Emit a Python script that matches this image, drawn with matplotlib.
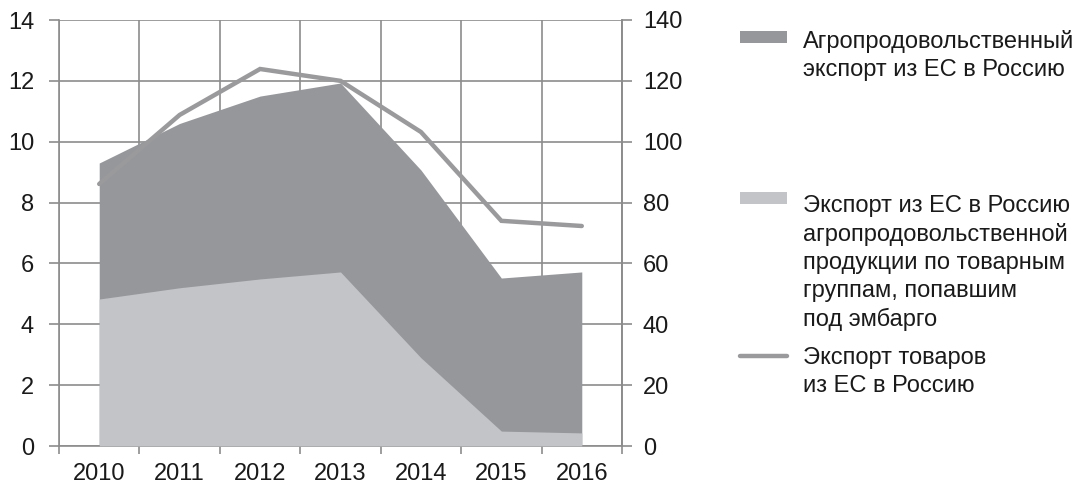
import numpy as np
import matplotlib.pyplot as plt
from matplotlib.patches import Rectangle
from matplotlib.lines import Line2D

plt.rcParams['font.family'] = ['Liberation Sans', 'DejaVu Sans']

years = ['2010', '2011', '2012', '2013', '2014', '2015', '2016']
agri_total = [9.3, 10.6, 11.5, 11.93, 9.07, 5.52, 5.72]
agri_embargo = [4.83, 5.2, 5.49, 5.72, 2.9, 0.49, 0.43]
total_export = [86.1, 108.8, 123.9, 120.0, 103.2, 74.0, 72.3]

dark = '#96979b'
light = '#c3c4c8'
line_col = '#9a9a9d'
grid_col = '#8c8c8c'
txt = '#1a1a1a'
fs = 17

fig = plt.figure(figsize=(10.83, 4.86), dpi=100)
ax = fig.add_axes([59 / 1083, 1 - 446 / 486, (622 - 59) / 1083, (446 - 20) / 486])
x = np.arange(len(years))

ax.fill_between(x, 0, agri_total, color=dark, lw=0, zorder=2)
ax.fill_between(x, 0, agri_embargo, color=light, lw=0, zorder=3)

ax.set_xlim(-0.5, len(years) - 0.5)
ax.set_ylim(0, 14)
ax.set_yticks(np.arange(0, 15, 2))
ax.set_xticks(np.arange(-0.5, len(years), 1))
ax.set_xticklabels([])
ax.set_xticks(x, minor=True)
ax.set_xticklabels(years, minor=True)
ax.tick_params(axis='x', which='minor', length=0, pad=12, labelsize=fs, labelcolor=txt)
ax.tick_params(axis='x', which='major', length=6, width=1.2, color=grid_col)
ax.tick_params(axis='y', length=7, width=1.2, color=grid_col, labelsize=fs, pad=11, labelcolor=txt)
ax.grid(True, which='major', color=grid_col, lw=1.2, zorder=1)
ax.set_axisbelow(True)
ax.spines['top'].set_visible(False)
for s in ['left', 'right', 'bottom']:
    ax.spines[s].set_color(grid_col)
    ax.spines[s].set_linewidth(1.2)

ax2 = ax.twinx()
ax2.plot(x, total_export, color=line_col, lw=3.2, solid_capstyle='round', solid_joinstyle='miter', zorder=5)
ax2.set_ylim(0, 140)
ax2.set_yticks(np.arange(0, 141, 20))
ax2.tick_params(axis='y', length=7, width=1.2, color=grid_col, labelsize=fs, pad=8, labelcolor=txt)
for s in ['top', 'left', 'bottom']:
    ax2.spines[s].set_visible(False)
ax2.spines['right'].set_color(grid_col)
ax2.spines['right'].set_linewidth(1.2)

# legend
W, H = 1083, 486
def fy(py):
    return 1 - py / H

ls = 1.34
fig.add_artist(Rectangle((740 / W, fy(43)), 47 / W, 12 / H, transform=fig.transFigure, color=dark, lw=0))
fig.text(803 / W, fy(30), 'Агропродовольственный\nэкспорт из ЕС в Россию',
         fontsize=fs, va='top', ha='left', linespacing=ls, color=txt)
fig.add_artist(Rectangle((740 / W, fy(204)), 47 / W, 12 / H, transform=fig.transFigure, color=light, lw=0))
fig.text(803 / W, fy(195), 'Экспорт из ЕС в Россию\nагропродовольственной\nпродукции по товарным\nгруппам, попавшим\nпод эмбарго',
         fontsize=fs, va='top', ha='left', linespacing=ls, color=txt)
fig.add_artist(Line2D([740 / W, 787 / W], [fy(356), fy(356)], transform=fig.transFigure,
                      color=line_col, lw=3.2, solid_capstyle='round'))
fig.text(803 / W, fy(347), 'Экспорт товаров\nиз ЕС в Россию',
         fontsize=fs, va='top', ha='left', linespacing=ls, color=txt)

fig.savefig('out.png', dpi=100)
